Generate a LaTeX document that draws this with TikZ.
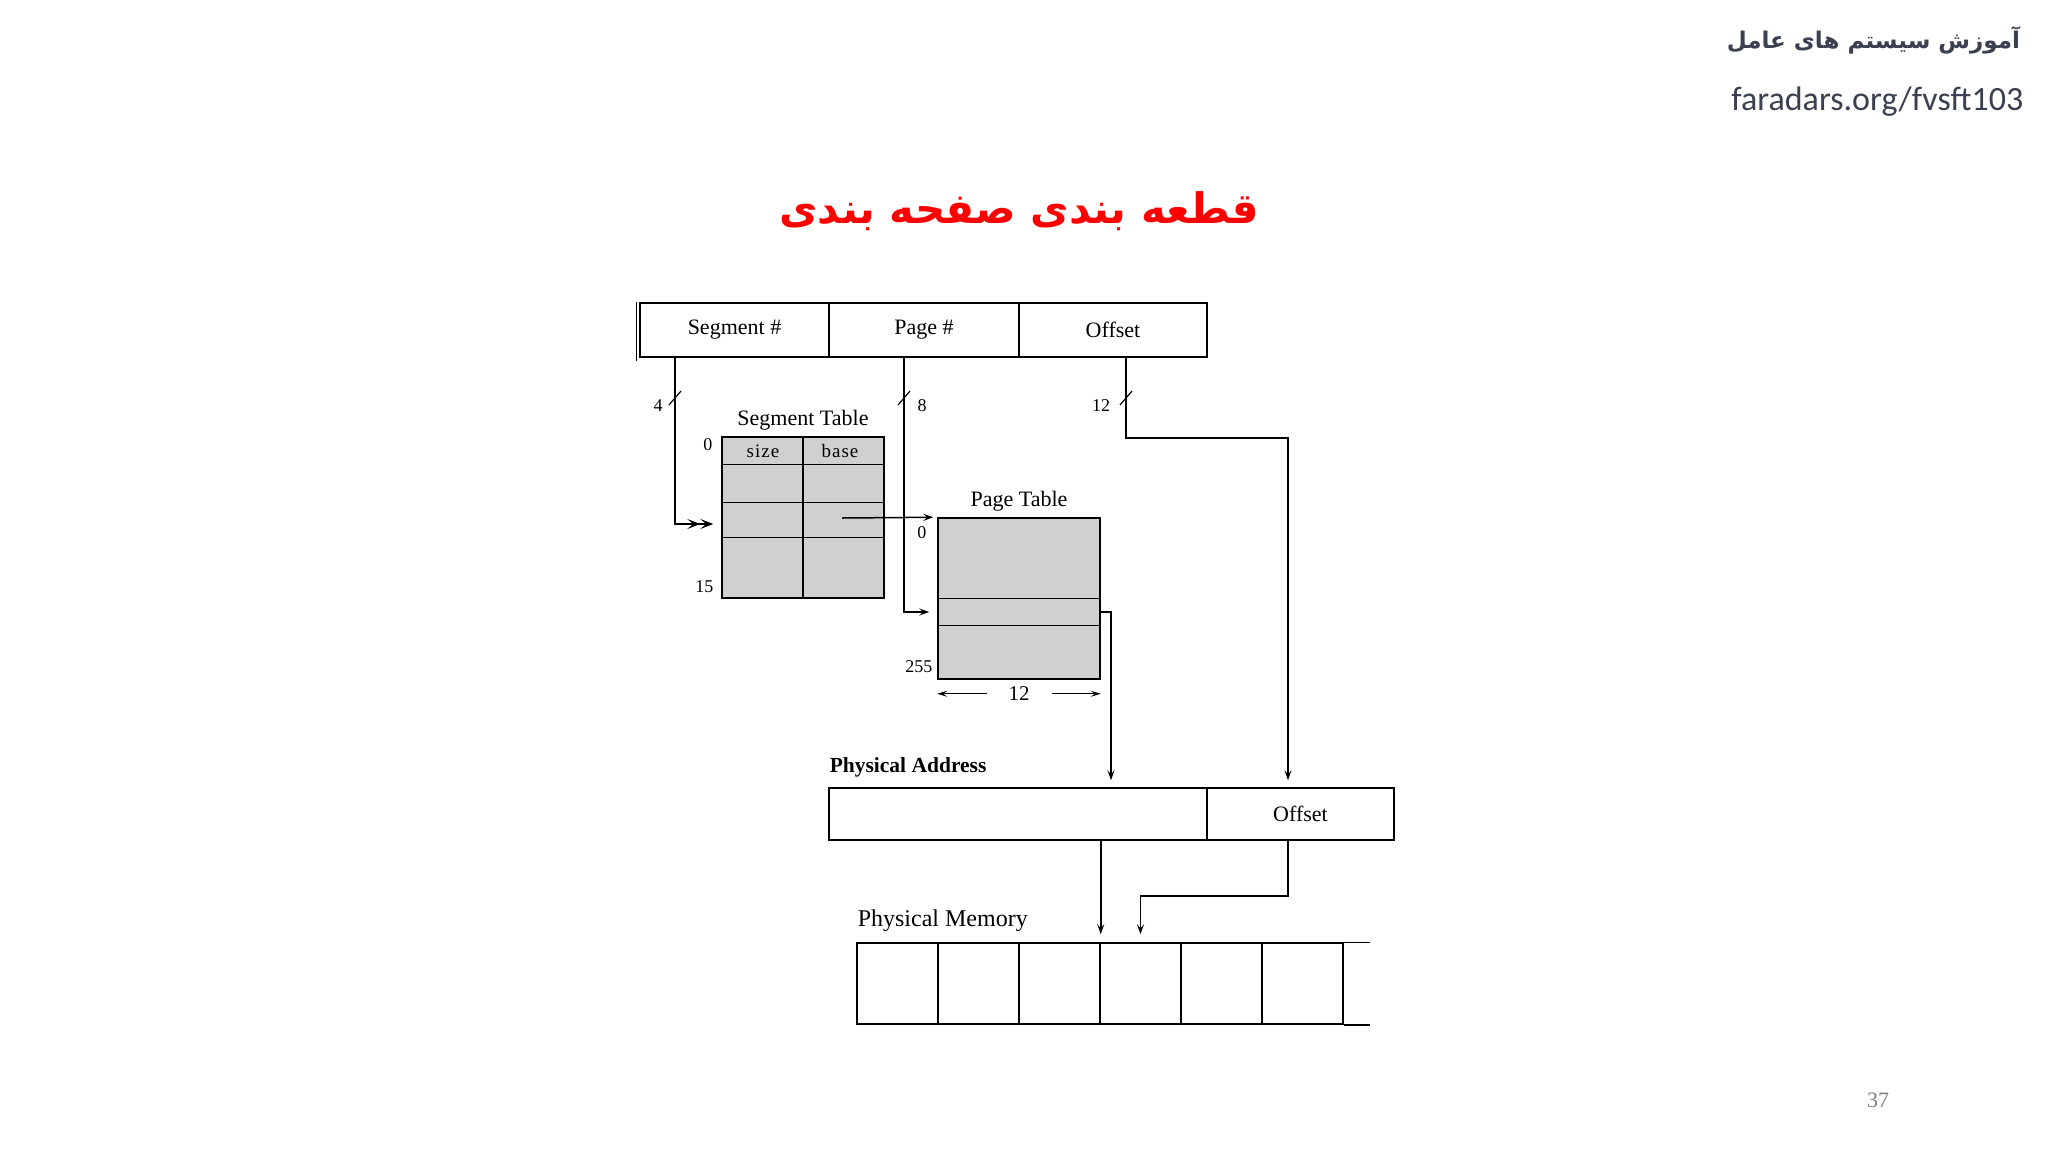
\documentclass[tikz,border=0pt]{standalone}
\usepackage{fontspec}
\setmainfont{Liberation Serif}
\newfontfamily\arabicfont[Script=Arabic]{DejaVu Sans}
\newfontfamily\urlfont{Carlito}
\TeXXeTstate=1
\usetikzlibrary{arrows.meta}
\definecolor{tblfill}{RGB}{208,208,210}
\definecolor{slate}{RGB}{59,64,80}

\begin{document}
\begin{tikzpicture}[x=1pt, y=-1pt, line width=1.5pt,
  field/.style={draw, rectangle, minimum height=54pt, inner sep=0pt, font=\fontsize{22}{25}\selectfont},
  tablebox/.style={draw, fill=tblfill, minimum width=162pt, minimum height=161pt, inner sep=0pt},
  memcell/.style={draw, minimum width=81pt, minimum height=81pt, inner sep=0pt},
  small/.style={inner sep=0pt, font=\fontsize{18}{20}\selectfont},
  caption/.style={inner sep=0pt, font=\fontsize{22}{25}\selectfont},
  link/.style={-{Stealth[length=10pt,width=7pt,inset=4pt]}},
  dim/.style={{Stealth[length=10pt,width=6pt,inset=4pt]}-{Stealth[length=10pt,width=6pt,inset=4pt]}, line width=1.2pt}
]
\fill[white] (0,0) rectangle (2048,1152);

% header
\node[anchor=east, text=slate] (course) at (2024,40) {\arabicfont\bfseries\fontsize{23}{28}\selectfont\beginR آموزش سیستم های عامل\endR};
\node[anchor=east, text=slate, inner sep=0pt, font=\urlfont\fontsize{34}{39}\selectfont] (weblink) at (2024,102) {faradars.org/fvsft103};
\node[text=red] (title) at (1019,211) {\arabicfont\bfseries\fontsize{42}{48}\selectfont\beginR قطعه بندی صفحه بندی\endR};
\node[text=gray, font=\fontsize{22}{25}\selectfont] (slideno) at (1878,1100) {37};

% logical address
\node[field, minimum width=189pt] (segnum) at (734.5,330) {Segment \#};
\node[field, minimum width=190pt] (pagenum) at (924,330) {Page \#};
\node[field, minimum width=188pt] (offset) at (1113,330) {Offset};
\draw ([xshift=-3pt]segnum.north west) -- ([xshift=-3pt,yshift=-3pt]segnum.south west);

% bit widths
\foreach \x in {675,904,1126}
  \draw[line width=1.2pt] (\x-6,405) -- (\x+6,391);
\node[small] (bits4) at (658,406) {4};
\node[small] (bits8) at (922,406) {8};
\node[small] (bits12) at (1101,406) {12};

% segment table
\node[tablebox] (segtab) at (803,517.5) {};
\draw (segtab.north) -- (segtab.south);
\foreach \d in {28,66,101}
  \draw ([yshift=-\d pt]segtab.north west) -- ([yshift=-\d pt]segtab.north east);
\node[caption, anchor=south] (segtitle) at ([yshift=5pt]segtab.north) {Segment Table};
\node[small, font=\fontsize{19}{21}\selectfont] (sizelbl) at (763,451) {s\kern1pt i\kern1pt z\kern1pt e};
\node[small, font=\fontsize{19}{21}\selectfont] (baselbl) at (840,451) {b\kern1pt a\kern1pt s\kern1pt e};
\node[small, anchor=east] (segfirst) at (713,445) {0};
\node[small, anchor=east] (seglast) at (714,587) {15};

% page table
\node[tablebox] (pagetab) at (1019,598.5) {};
\foreach \d in {81,108}
  \draw ([yshift=-\d pt]pagetab.north west) -- ([yshift=-\d pt]pagetab.north east);
\node[caption, anchor=south] (pagetitle) at ([yshift=5pt]pagetab.north) {Page Table};
\node[small, anchor=east] (pagefirst) at (927,533) {0};
\node[small, anchor=east] (pagelast) at (933,667) {255};
\draw[dim] ([yshift=-14pt]pagetab.south west) -- ([yshift=-14pt]pagetab.south east)
  node[midway, fill=white, inner xsep=22pt, inner ysep=1pt, font=\fontsize{21}{23}\selectfont] (pagewidth) {12};

% physical address
\node[field, minimum width=378pt, minimum height=52pt] (physframe) at (1018,814) {};
\node[field, minimum width=187pt, minimum height=52pt] (physoff) at (1300.5,814) {Offset};
\node[caption, anchor=west, font=\bfseries\fontsize{21.5}{24}\selectfont] (physlbl) at (829,767) {Physical Address};

% physical memory
\foreach \i in {1,...,6}
  \node[memcell] (mem\i) at (857+81*\i-40.5,983.5) {};
\draw (mem6.north east) -- ++(26,0);
\draw (mem6.south east) -- ++(26,0);
\node[caption, anchor=west, font=\fontsize{24}{27}\selectfont] (memlbl) at (857,921) {Physical Memory};

% connectors
\coordinate (basept) at (842,518);
\draw[-{Stealth[length=13pt,width=10pt,inset=6pt]Stealth[length=13pt,width=10pt,inset=6pt]}]
  ([xshift=-59.5pt]segnum.south) |- ([xshift=-8pt,yshift=-6.5pt]segtab.west);
\draw[link] ([xshift=-20pt]pagenum.south) |- ([xshift=-8pt,yshift=-13.5pt]pagetab.west);
\draw[link] (basept) -- ([xshift=-4pt]pagetab.north west);
\draw[link, shorten >=7pt] ([xshift=13pt]offset.south) -- ++(0,80) -| ([xshift=-12.5pt]physoff.north);
\draw[link, shorten >=7pt] ([yshift=-13.5pt]pagetab.east) -| ([xshift=93pt]physframe.north);
\draw[link, shorten >=8pt] (physframe.south -| mem3.east) -- (mem3.north east);
\draw[link, shorten >=8pt] ([xshift=-12.5pt]physoff.south) -- ++(0,55) -| (mem4.north);
\end{tikzpicture}
\end{document}
